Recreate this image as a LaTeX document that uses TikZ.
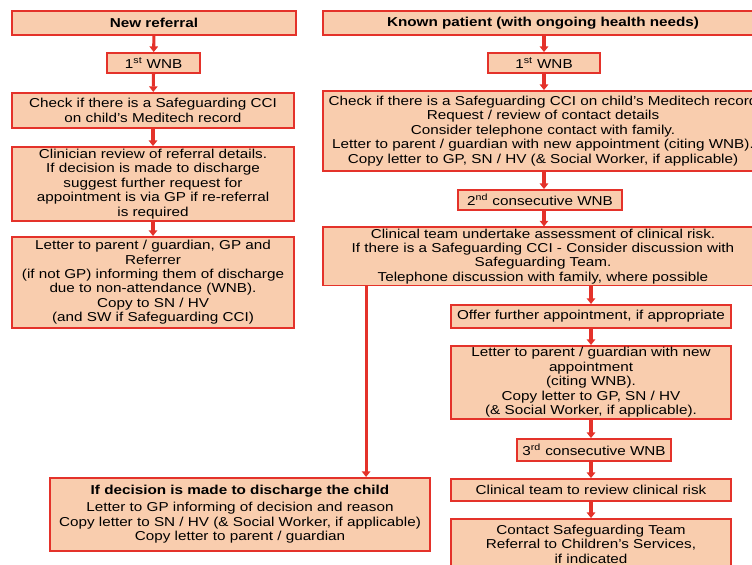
\documentclass[tikz,border=0pt]{standalone}
\usepackage{fontspec}
\setmainfont[FakeStretch=1.18]{Liberation Sans}
\usepackage{tikz}
\usetikzlibrary{arrows.meta,positioning,calc}

\definecolor{boxfill}{RGB}{249,205,174}
\definecolor{boxline}{RGB}{228,50,42}

\begin{document}
\begin{tikzpicture}[
    box/.style={draw=boxline, line width=1.3pt, fill=boxfill, align=center, inner sep=1pt,
        font=\fontsize{9.2}{10.25}\selectfont},
    flow/.style={-{Triangle[length=4pt,width=6pt]}, line width=2.2pt, boxline}
]
    \useasboundingbox (0,0) rectangle (18.8,-14.125);
    \clip (0,0) rectangle (18.8,-14.125);

    % New referral column
    \node[box, minimum width=7.1cm, minimum height=0.6cm] (nr) at (3.85,-0.575) {\textbf{New referral}};
    \node[box, minimum width=2.33cm, minimum height=0.5cm] (w1L) at (3.84,-1.575) {1\textsuperscript{st} WNB};
    \node[box, minimum width=7.05cm, minimum height=0.875cm] (ckL) at (3.825,-2.76)
        {Check if there is a Safeguarding CCI\\on child's Meditech record};
    \node[box, minimum width=7.05cm, minimum height=1.85cm] (rvL) at (3.825,-4.6)
        {Clinician review of referral details.\\If decision is made to discharge\\suggest further request for\\appointment is via GP if re-referral\\is required};
    \node[box, minimum width=7.05cm, minimum height=2.275cm] (ltL) at (3.825,-7.06)
        {Letter to parent / guardian, GP and\\Referrer\\(if not GP) informing them of discharge\\due to non-attendance (WNB).\\Copy to SN / HV\\(and SW if Safeguarding CCI)};

    % Known patient column
    \node[box, minimum width=11cm, minimum height=0.6cm] (kp) at (13.575,-0.575) {\textbf{Known patient (with ongoing health needs)}};
    \node[box, minimum width=2.8cm, minimum height=0.5cm] (w1R) at (13.6,-1.575) {1\textsuperscript{st} WNB};
    \node[box, minimum width=11cm, minimum height=2cm] (ckR) at (13.575,-3.275)
        {Check if there is a Safeguarding CCI on child's Meditech record\\Request / review of contact details\\Consider telephone contact with family.\\Letter to parent / guardian with new appointment (citing WNB).\\Copy letter to GP, SN / HV (\& Social Worker, if applicable)};
    \node[box, minimum width=4.1cm, minimum height=0.5cm] (w2R) at (13.5,-5.0) {2\textsuperscript{nd} consecutive WNB};
    \node[box, minimum width=11cm, minimum height=1.425cm] (ctR) at (13.575,-6.41)
        {Clinical team undertake assessment of clinical risk.\\If there is a Safeguarding CCI - Consider discussion with\\Safeguarding Team.\\Telephone discussion with family, where possible};
    \node[box, minimum width=7cm, minimum height=0.575cm] (ofR) at (14.775,-7.91) {Offer further appointment, if appropriate};
    \node[box, minimum width=7cm, minimum height=1.825cm] (lrR) at (14.775,-9.56)
        {Letter to parent / guardian with new\\appointment\\(citing WNB).\\Copy letter to GP, SN / HV\\(\& Social Worker, if applicable).};
    \node[box, minimum width=3.85cm, minimum height=0.55cm] (w3R) at (14.85,-11.25) {3\textsuperscript{rd} consecutive WNB};
    \node[box, minimum width=7cm, minimum height=0.55cm] (rvR) at (14.775,-12.25) {Clinical team to review clinical risk};
    \node[box, minimum width=7cm, minimum height=1.25cm] (csR) at (14.775,-13.6)
        {Contact Safeguarding Team\\Referral to Children's Services,\\if indicated};

    % Discharge
    \node[box, minimum width=9.5cm, minimum height=1.825cm] (dc) at (6.0,-12.86)
        {\textbf{If decision is made to discharge the child}\\[2pt]Letter to GP informing of decision and reason\\Copy letter to SN / HV (\& Social Worker, if applicable)\\Copy letter to parent / guardian};

    % Arrows
    \draw[flow] (nr) -- (w1L);
    \draw[flow] (w1L) -- (ckL);
    \draw[flow] (ckL) -- (rvL);
    \draw[flow] (rvL) -- (ltL);

    \draw[flow] (kp.south -| w1R) -- (w1R);
    \draw[flow] (w1R) -- (w1R |- ckR.north);
    \draw[flow] (w1R |- ckR.south) -- (w2R.north -| w1R);
    \draw[flow] (w2R.south -| w1R) -- (w1R |- ctR.north);
    \draw[flow] (ctR.south -| ofR) -- (ofR);
    \draw[flow] (ofR) -- (lrR);
    \draw[flow] (lrR) -- (w3R.north -| lrR);
    \draw[flow] (w3R.south -| lrR) -- (rvR);
    \draw[flow] (rvR) -- (csR);

    \coordinate (split) at ($(ctR.south west)+(1.1,0)$);
    \draw[flow] (split) -- (split |- dc.north);
\end{tikzpicture}
\end{document}
